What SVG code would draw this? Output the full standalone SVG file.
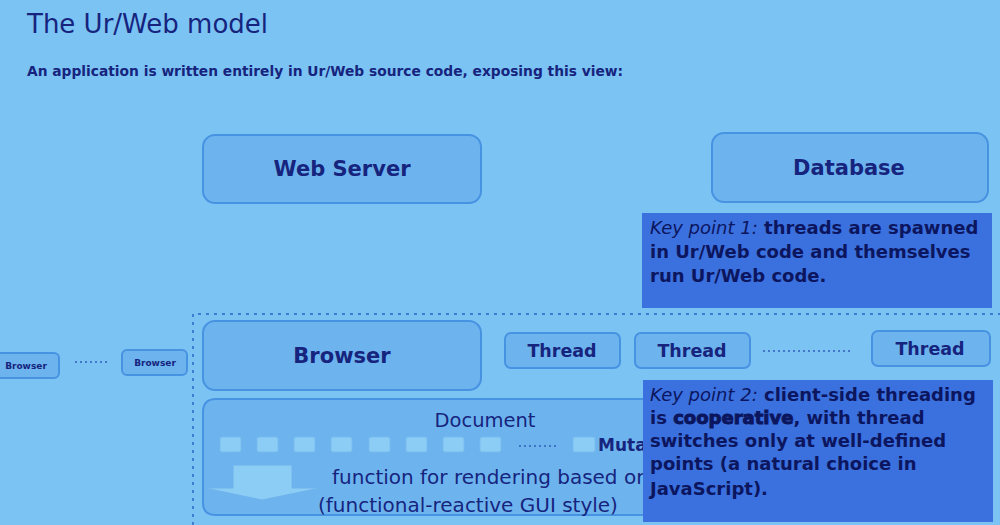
<svg xmlns="http://www.w3.org/2000/svg" width="1000" height="525" viewBox="0 0 1000 525">
<style>
.bg{fill:#7bc3f3}
.box{fill:#6db4ee;stroke:#4892e2;stroke-width:2}
.key{fill:#3b70df}
.t{font-family:"DejaVu Sans","Liberation Sans",sans-serif;fill:#16247e}
.kt{font-family:"DejaVu Sans","Liberation Sans",sans-serif;fill:#0c165e;font-size:18px;font-weight:bold}
.c{text-anchor:middle}
.dots{stroke:#2f5fb8;stroke-width:1.5;stroke-dasharray:2,3}
.sq{fill:#8ccdf5;stroke:#78bcef;stroke-width:1}
</style>
<rect class="bg" x="0" y="0" width="1000" height="525"/>
<text class="t" x="27" y="33" font-size="26" fill="#131f6c">The Ur/Web model</text>
<text class="t" x="27" y="76" font-size="14.5" font-weight="bold" textLength="596" lengthAdjust="spacingAndGlyphs" fill="#24459e">An application is written entirely in Ur/Web source code, exposing this view:</text>

<g id="container">
<path d="M193,525 V314 H1000" fill="none" stroke="#3f7dd2" stroke-width="2" stroke-dasharray="3,5"/>
</g>

<g id="web-server">
<rect class="box" x="203" y="135" width="278" height="68" rx="12"/>
<text class="t c" x="342" y="176" font-size="21" font-weight="bold">Web Server</text>
</g>
<g id="database">
<rect class="box" x="712" y="133" width="276" height="69" rx="12"/>
<text class="t c" x="849" y="175" font-size="21" font-weight="bold">Database</text>
</g>

<g id="browser-small-1">
<rect class="box" x="-4" y="353" width="63" height="25" rx="5"/>
<text class="t c" x="26" y="369" font-size="9" font-weight="bold">Browser</text>
</g>
<g id="browser-small-2">
<rect class="box" x="122" y="350" width="65" height="25" rx="5"/>
<text class="t c" x="155" y="366" font-size="9" font-weight="bold">Browser</text>
</g>
<g id="browser">
<rect class="box" x="203" y="321" width="278" height="69" rx="12"/>
<text class="t c" x="342" y="363" font-size="21" font-weight="bold">Browser</text>
</g>
<g id="thread-1">
<rect class="box" x="505" y="333" width="115" height="35" rx="6"/>
<text class="t c" x="562" y="357" font-size="17.5" font-weight="bold">Thread</text>
</g>
<g id="thread-2">
<rect class="box" x="635" y="333" width="115" height="35" rx="6"/>
<text class="t c" x="692" y="357" font-size="17.5" font-weight="bold">Thread</text>
</g>
<g id="thread-3">
<rect class="box" x="872" y="331" width="118" height="35" rx="6"/>
<text class="t c" x="930" y="355" font-size="17.5" font-weight="bold">Thread</text>
</g>

<g id="document">
<path d="M650,399 H216 Q203,399 203,412 V503 Q203,515 216,515 H650" class="box"/>
<text class="t c" x="485" y="427" font-size="19.5">Document</text>
<rect class="sq" x="220" y="437" width="21" height="15" rx="2"/>
<rect class="sq" x="257" y="437" width="21" height="15" rx="2"/>
<rect class="sq" x="294" y="437" width="21" height="15" rx="2"/>
<rect class="sq" x="331" y="437" width="21" height="15" rx="2"/>
<rect class="sq" x="369" y="437" width="21" height="15" rx="2"/>
<rect class="sq" x="406" y="437" width="21" height="15" rx="2"/>
<rect class="sq" x="443" y="437" width="21" height="15" rx="2"/>
<rect class="sq" x="480" y="437" width="21" height="15" rx="2"/>
<rect class="sq" x="573" y="437" width="22" height="15" rx="2"/>
<text class="t" x="598" y="451" font-size="17" font-weight="bold">Muta</text>
<path d="M233,465 H292 V488 H320 L262,500 L205,488 H233 Z" fill="#8ccdf5" stroke="#6fb3ec" stroke-width="1"/>
<text class="t" x="332" y="484" font-size="20">function for rendering based on</text>
<text class="t" x="318" y="512" font-size="20">(functional-reactive GUI style)</text>
</g>

<g id="connectors">
<line class="dots" x1="75" y1="362" x2="108" y2="362"/>
<line class="dots" x1="763" y1="351" x2="850" y2="351"/>
<line class="dots" x1="519" y1="446" x2="556" y2="446"/>
</g>

<g id="key-point-1">
<rect class="key" x="642" y="213" width="350" height="95"/>
<text class="kt" x="650" y="234"><tspan font-style="italic" font-weight="normal">Key point 1:</tspan> threads are spawned</text>
<text class="kt" x="650" y="258">in Ur/Web code and themselves</text>
<text class="kt" x="650" y="282">run Ur/Web code.</text>
</g>
<g id="key-point-2">
<rect class="key" x="643" y="380" width="350" height="142"/>
<text class="kt" x="650" y="401"><tspan font-style="italic" font-weight="normal">Key point 2:</tspan> client-side threading</text>
<text class="kt" x="650" y="424">is <tspan stroke="#0c165e" stroke-width="1">cooperative</tspan>, with thread</text>
<text class="kt" x="650" y="447">switches only at well-defined</text>
<text class="kt" x="650" y="470">points (a natural choice in</text>
<text class="kt" x="650" y="495">JavaScript).</text>
</g>
</svg>
